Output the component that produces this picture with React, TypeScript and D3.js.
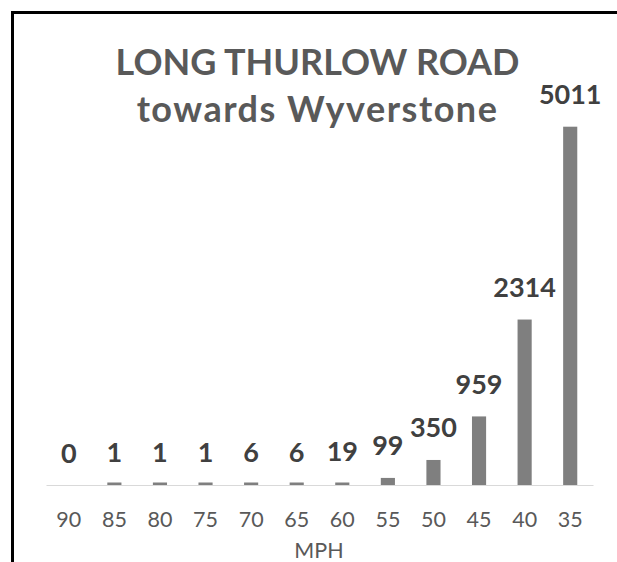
import React, { useEffect, useRef } from 'react'
import * as d3 from 'd3'

// speed bands (mph) and vehicle counts
const speeds = ['90', '85', '80', '75', '70', '65', '60', '55', '50', '45', '40', '35']
const counts = [0, 1, 1, 1, 6, 6, 19, 99, 350, 959, 2314, 5011]
const titleLines = ['LONG THURLOW ROAD', 'towards Wyverstone']
const axisTitle = 'MPH'

export default function App() {
  const ref = useRef<SVGSVGElement>(null)

  useEffect(() => {
    const width = 617
    const height = 562
    const base = 485
    const font = 'Lato, "Open Sans", sans-serif'

    const svg = d3.select(ref.current)
    svg.selectAll('*').remove()

    svg.append('rect').attr('width', width).attr('height', height).attr('fill', '#fff')

    // the chart frame, only its top and left edges fall inside the picture
    svg.append('rect')
      .attr('x', 12.5).attr('y', 12.5)
      .attr('width', 900).attr('height', 900)
      .attr('fill', 'none')
      .attr('stroke', '#000')
      .attr('stroke-width', 3)

    const x = d3.scaleBand()
      .domain(speeds)
      .range([46, 593])
      .paddingInner(0.69)
      .paddingOuter(0.345)

    const y = d3.scaleLinear()
      .domain([0, d3.max(counts) as number])
      .range([base, 126.7])

    // title
    svg.append('g')
      .selectAll('text')
      .data(titleLines)
      .enter()
      .append('text')
      .attr('x', 317.5)
      .attr('y', (d, i) => 75 + i * 47)
      .attr('text-anchor', 'middle')
      .attr('font-family', font)
      .attr('font-weight', 'bold')
      .attr('font-size', 36)
      .attr('letter-spacing', (d, i) => (i === 0 ? 0 : 1.5))
      .attr('fill', '#595959')
      .text(d => d)

    // x axis
    const axis = d3.axisBottom(x).tickSize(0).tickSizeOuter(0)
    const gx = svg.append('g')
      .attr('transform', `translate(0,${base})`)
      .call(axis)
    gx.select('.domain').attr('stroke', '#d9d9d9').attr('stroke-width', 1)
    gx.selectAll('text')
      .attr('y', 42)
      .attr('dy', null)
      .attr('font-family', font)
      .attr('font-size', 21.5)
      .attr('fill', '#595959')

    // bars; tiny counts still get a visible sliver like the original
    const barTop = (d: number) => (d > 0 ? Math.min(y(d), base - 2.5) : base)
    svg.append('g')
      .selectAll('rect')
      .data(counts)
      .enter()
      .append('rect')
      .attr('x', (d, i) => x(speeds[i]) as number)
      .attr('width', x.bandwidth())
      .attr('y', d => barTop(d))
      .attr('height', d => base - barTop(d))
      .attr('fill', '#7f7f7f')

    // value labels
    svg.append('g')
      .selectAll('text')
      .data(counts)
      .enter()
      .append('text')
      .attr('x', (d, i) => (x(speeds[i]) as number) + x.bandwidth() / 2)
      .attr('y', d => y(d) - 22.5)
      .attr('text-anchor', 'middle')
      .attr('font-family', font)
      .attr('font-weight', 'bold')
      .attr('font-size', 27)
      .attr('fill', '#404040')
      .text(d => d)

    // axis title
    svg.append('text')
      .attr('x', 319)
      .attr('y', 557.5)
      .attr('text-anchor', 'middle')
      .attr('font-family', font)
      .attr('font-size', 21.5)
      .attr('fill', '#595959')
      .text(axisTitle)
  }, [])

  return (
    <svg
      ref={ref}
      width={617}
      height={562}
      style={{ position: 'absolute', left: 0, top: 0, display: 'block' }}
    />
  )
}
